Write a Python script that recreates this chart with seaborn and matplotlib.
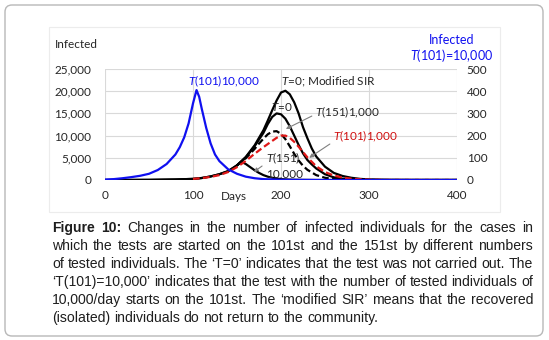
import matplotlib
matplotlib.use("Agg")
import matplotlib.pyplot as plt
import matplotlib.patches as mpatches
from matplotlib.ticker import FuncFormatter
import seaborn as sns

# ---- data ----
days_t0 = [0, 50, 80, 100, 110, 120, 130, 140, 150, 160, 170, 180, 185, 190, 195, 200,
           205, 210, 215, 220, 225, 230, 235, 240, 250, 260, 270, 280, 290, 300, 320, 350, 400]
infected_mod_sir = [0, 30, 120, 250, 450, 800, 1300, 2000, 3300, 5200, 7800, 11200, 13400, 15700,
                    17900, 19700, 20100, 19300, 17500, 15000, 11900, 9400, 7100, 5300, 3000, 1600,
                    900, 500, 250, 120, 30, 0, 0]
infected_t0 = [0, 30, 120, 250, 450, 800, 1300, 2000, 3300, 5100, 7600, 10600, 12600, 14200,
               15000, 14800, 13800, 12100, 10000, 7900, 6000, 4500, 3500, 2600, 1300, 600,
               280, 120, 50, 20, 0, 0, 0]

days_t151_1k = [150, 160, 170, 175, 180, 185, 190, 195, 200, 205, 210, 215, 220, 225, 230,
                240, 250, 260, 280, 300, 400]
infected_t151_1k = [3300, 4900, 7000, 8200, 9300, 10300, 10900, 11000, 10400, 9200, 7600, 5900,
                    4400, 3200, 2300, 1100, 500, 200, 40, 0, 0]

days_t151_10k = [150, 155, 160, 165, 170, 175, 180, 185, 190, 200, 210, 220, 240, 400]
infected_t151_10k = [3300, 4100, 3600, 2900, 2200, 1600, 1100, 750, 500, 200, 80, 30, 0, 0]

days_t101_1k = [100, 110, 120, 130, 140, 150, 160, 170, 180, 190, 195, 200, 205, 210, 215,
                220, 225, 230, 240, 250, 260, 270, 280, 300, 320, 400]
infected_t101_1k = [250, 420, 700, 1100, 1800, 2900, 4300, 5900, 7400, 8800, 9500, 10000, 10000,
                    9500, 8600, 7500, 6300, 5100, 3100, 1800, 1000, 550, 280, 70, 20, 0]

# blue curve, right axis
days_t101_10k = [0, 10, 20, 30, 40, 50, 60, 70, 80, 85, 90, 95, 100, 104, 107, 110, 115, 120,
                 125, 130, 140, 150, 160, 170, 180, 200, 250, 400]
infected_t101_10k = [2, 4, 8, 13, 19, 28, 45, 72, 115, 148, 192, 255, 345, 405, 375, 320, 235,
                     165, 115, 85, 48, 28, 15, 8, 4, 1, 0, 0]

left_ticks = [0, 5000, 10000, 15000, 20000, 25000]
right_ticks = [0, 100, 200, 300, 400, 500]
x_ticks = [0, 100, 200, 300, 400]

caption_lines = [
    [("Figure 10:", "bold"), ("Changes in the number of infected individuals for the cases in", "normal")],
    [("which the tests are started on the 101st and the 151st by different numbers", "normal")],
    [("of tested individuals. The \u2018T=0\u2019 indicates that the test was not carried out. The", "normal")],
    [("\u2018T(101)=10,000\u2019 indicates that the test with the number of tested individuals of", "normal")],
    [("10,000/day starts on the 101st. The \u2018modified SIR\u2019 means that the recovered", "normal")],
    [("(isolated) individuals do not return to the community.", "normal")],
]

BLUE = "#1010f0"
RED = "#e01818"
RED_TXT = "#d01010"
TXT = "#262626"

sns.set_theme(style="white")
plt.rcParams["font.family"] = ["Lato", "DejaVu Sans"]
plt.rcParams["mathtext.fontset"] = "custom"
plt.rcParams["mathtext.it"] = "Lato:italic"
plt.rcParams["mathtext.rm"] = "Lato"

W, H = 549, 340
fig = plt.figure(figsize=(W / 100, H / 100), dpi=100)
fig.patch.set_facecolor("white")

# outer rounded frame and faint chart-image frame (pixel coords)
frame = mpatches.FancyBboxPatch((5, 4), 538, 331, boxstyle="round,pad=0,rounding_size=7",
                                transform=None, facecolor="none", edgecolor="#b8b8b8", lw=1.0)
fig.patches.append(frame)
img_frame = mpatches.Rectangle((49, H - 212), 451, 185, transform=None,
                               facecolor="none", edgecolor="#ececec", lw=0.8)
fig.patches.append(img_frame)

# plot area: px x 105..457, y 69..180
x0, x1, ytop, ybot = 105, 457, 69, 180
ax = fig.add_axes([x0 / W, 1 - ybot / H, (x1 - x0) / W, (ybot - ytop) / H])
ax2 = ax.twinx()

lw = 1.6
sns.lineplot(x=days_t0, y=infected_mod_sir, ax=ax, color="black", lw=lw)
sns.lineplot(x=days_t0, y=infected_t0, ax=ax, color="black", lw=lw)
sns.lineplot(x=days_t151_10k, y=infected_t151_10k, ax=ax, color="black", lw=lw)
sns.lineplot(x=days_t151_1k, y=infected_t151_1k, ax=ax, color="black", lw=lw,
             linestyle=(0, (3, 1.5)))
sns.lineplot(x=days_t101_1k, y=infected_t101_1k, ax=ax, color=RED, lw=lw,
             linestyle=(0, (3, 1.5)))
sns.lineplot(x=days_t101_10k, y=infected_t101_10k, ax=ax2, color=BLUE, lw=lw)

ax.set_xlim(0, 400)
ax.set_ylim(0, 25000)
ax2.set_ylim(0, 500)
ax.set_xticks(x_ticks)
ax.set_yticks(left_ticks)
ax2.set_yticks(right_ticks)
ax.yaxis.set_major_formatter(FuncFormatter(lambda v, p: f"{int(v):,}"))
ax.grid(True, color="#d9d9d9", lw=0.8)
ax2.grid(False)
for a in (ax, ax2):
    for s in a.spines.values():
        s.set_visible(False)
    a.set_xlabel("")
    a.set_ylabel("")
ax.tick_params(axis="x", length=0, pad=7, labelsize=8.5, labelcolor=TXT)
ax.tick_params(axis="y", length=0, pad=10, labelsize=8.5, labelcolor=TXT)
ax2.tick_params(axis="y", length=0, pad=7, labelsize=8.5, labelcolor=TXT)

fs = 8.5
ax.text(135, 22300, r"$T$(101)10,000", color=BLUE, fontsize=fs, ha="center", va="center")
ax.text(200, 22100, r"$T$=0; Modified SIR", color=TXT, fontsize=fs, ha="left", va="center")
ax.text(201, 16400, r"$T$=0", color=TXT, fontsize=fs, ha="center", va="center")
ax.text(238.5, 15300, r"$T$(151)1,000", color=TXT, fontsize=fs, ha="left", va="center")
ax.text(259, 9900, r"$T$(101)1,000", color=RED_TXT, fontsize=fs, ha="left", va="center")
ax.text(183, 3300, "$T$(151)\n10,000", color=TXT, fontsize=fs, ha="left", va="center",
        linespacing=1.3)

arrow = dict(arrowstyle="-|>", color="#808080", lw=0.8, mutation_scale=6, shrinkA=0, shrinkB=0)
ax.annotate("", xy=(169, 1800), xytext=(178.5, 3150), arrowprops=arrow)
ax.annotate("", xy=(205.5, 11500), xytext=(235, 14400), arrowprops=arrow)
ax.annotate("", xy=(232, 5000), xytext=(255.5, 8100), arrowprops=arrow)

ax.text(147, -0.145, "Days", transform=ax.get_xaxis_transform(), fontsize=fs, color=TXT,
        ha="center", va="center")

fig.text(55 / W, 1 - 44 / H, "Infected", fontsize=fs, color=TXT, ha="left", va="center")
fig.text(452 / W, 1 - 40 / H, "Infected", fontsize=9, color=BLUE, ha="center", va="center")
fig.text(452 / W, 1 - 56 / H, r"$T$(101)=10,000", fontsize=9, color=BLUE, ha="center",
         va="center")

# justified caption
renderer = fig.canvas.get_renderer()
cap_left, cap_right = 52, 533
cap_y0, cap_dy = 232, 18
cap_fs = 10.1
space_px = 0.278 * cap_fs * 100 / 72
for i, parts in enumerate(caption_lines):
    words = []
    for chunk, weight in parts:
        for w in chunk.split(" "):
            words.append((w, weight))
    y = H - (cap_y0 + i * cap_dy)
    texts = []
    for w, weight in words:
        t = fig.text(0, y, w, transform=None, fontsize=cap_fs, fontweight=weight,
                     family="Liberation Sans", color="#1e1e1e", ha="left", va="baseline")
        texts.append(t)
    widths = [t.get_window_extent(renderer).width for t in texts]
    if i == len(caption_lines) - 1:
        gap = space_px
    else:
        gap = (cap_right - cap_left - sum(widths)) / (len(words) - 1)
    x = cap_left
    for t, wd in zip(texts, widths):
        t.set_x(x)
        x += wd + gap

fig.savefig("out.png", dpi=100)
